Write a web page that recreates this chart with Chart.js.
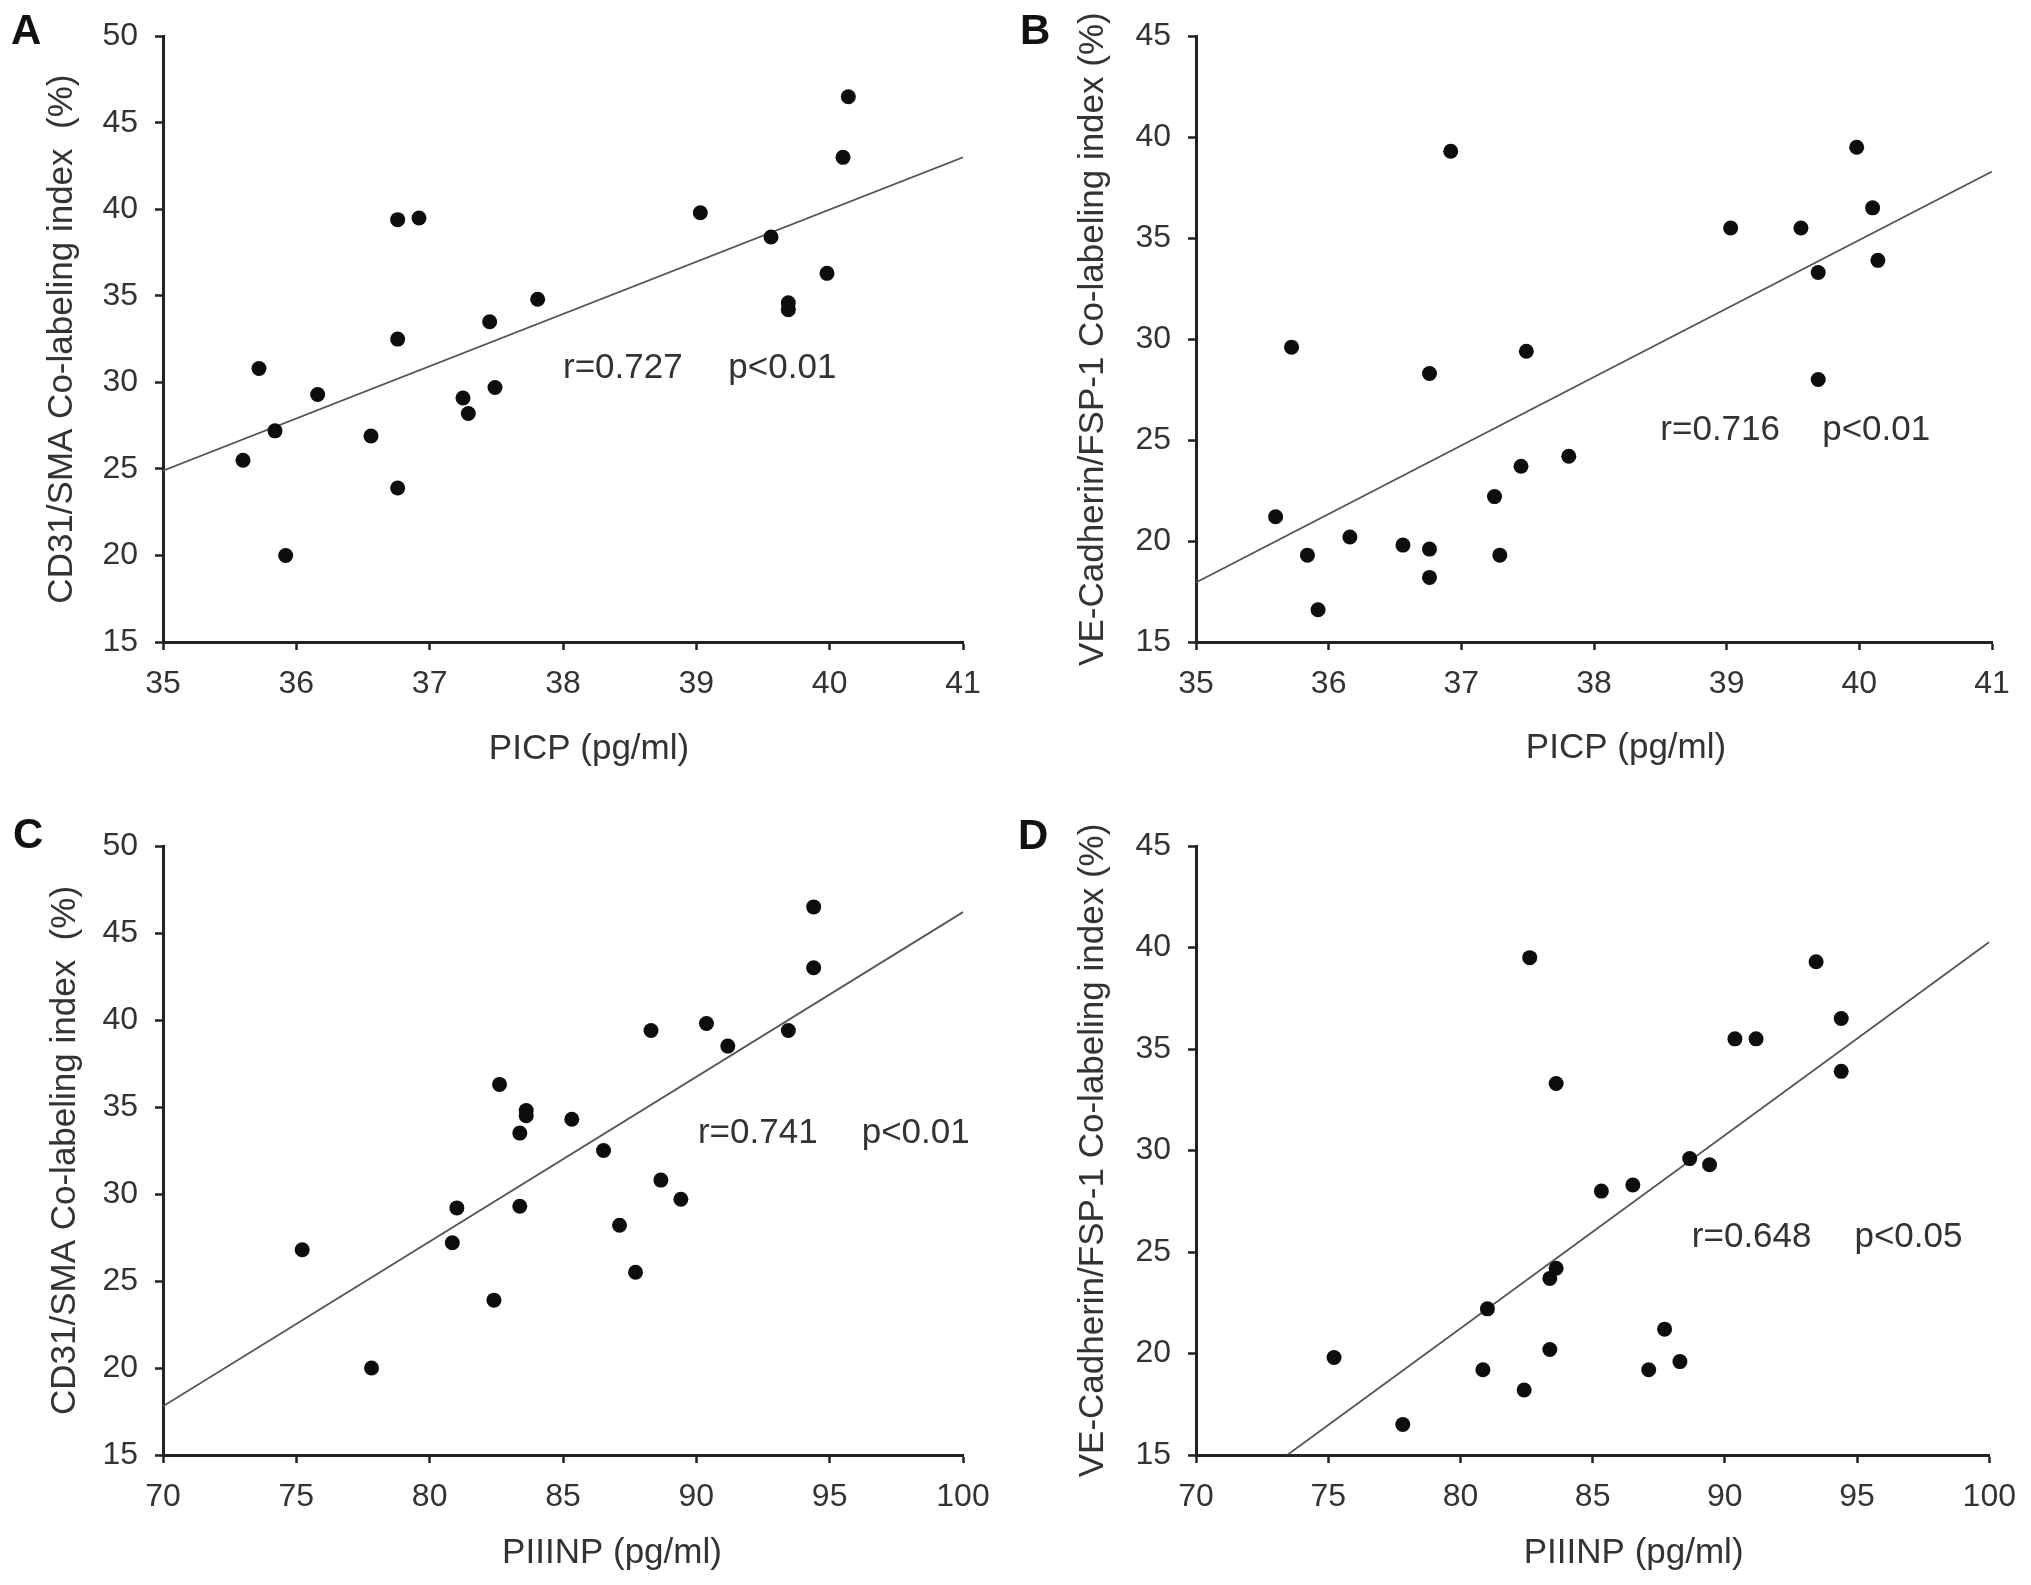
<!DOCTYPE html>
<html>
<head>
<meta charset="utf-8">
<script src="https://cdn.jsdelivr.net/npm/chart.js@4.4.1/dist/chart.umd.min.js"></script>
<style>
  html, body { margin: 0; padding: 0; background: #fff; }
  .panel { position: absolute; }
</style>
</head>
<body>
<div class="panel" style="left:0;top:0;width:1015px;height:792px"><canvas id="chartA"></canvas></div>
<div class="panel" style="left:1015px;top:0;width:1016px;height:792px"><canvas id="chartB"></canvas></div>
<div class="panel" style="left:0;top:792px;width:1015px;height:793px"><canvas id="chartC"></canvas></div>
<div class="panel" style="left:1015px;top:792px;width:1016px;height:793px"><canvas id="chartD"></canvas></div>
<script>
// PICP (pg/ml), one value per patient, sorted
const picp = [35.60, 35.72, 35.84, 35.92, 36.16, 36.56, 36.76, 36.76, 36.76, 36.92, 37.25,
              37.29, 37.45, 37.49, 37.81, 39.03, 39.56, 39.69, 39.69, 39.98, 40.10, 40.14];
// CD31/SMA co-labeling index (%) in PICP order (panel A)
const cd31ByPicp = [25.5, 30.8, 27.2, 20.0, 29.3, 26.9, 23.9, 32.5, 39.4, 39.5, 29.1,
                    28.2, 33.5, 29.7, 34.8, 39.8, 38.4, 34.6, 34.2, 36.3, 43.0, 46.5];
// VE-Cadherin/FSP-1 co-labeling index (%) in PICP order (panel B)
const vecadByPicp = [21.2, 29.6, 19.3, 16.6, 20.2, 19.8, 19.6, 18.2, 28.3, 39.3, 22.2,
                     19.3, 23.7, 29.4, 24.2, 35.5, 35.5, 33.3, 28.0, 39.5, 36.5, 33.9];

// PIIINP (pg/ml), sorted
const piiinp = [75.22, 77.82, 80.85, 81.02, 82.41, 82.62, 83.38, 83.38, 83.62, 83.62, 85.33,
                86.52, 87.12, 87.72, 88.30, 88.67, 89.42, 90.38, 91.18, 93.45, 94.40, 94.40];
// CD31/SMA in PIIINP order (panel C)
const cd31ByPiiinp = [26.8, 20.0, 27.2, 29.2, 23.9, 36.3, 33.5, 29.3, 34.8, 34.5, 34.3,
                      32.5, 28.2, 25.5, 39.4, 30.8, 29.7, 39.8, 38.5, 39.4, 43.0, 46.5];
// VE-Cadherin/FSP-1 in PIIINP order (panel D)
const vecadByPiiinp = [19.8, 16.5, 19.2, 22.2, 18.2, 39.5, 23.7, 20.2, 24.2, 33.3, 28.0,
                       28.3, 19.2, 21.2, 19.6, 29.6, 29.3, 35.5, 35.5, 39.3, 36.5, 33.9];

// regression lines (x ends, y ends)
const fitAx = [35, 41],    fitAy = [24.9, 43.0];
const fitBx = [35, 41],    fitBy = [17.95, 38.3];
const fitCx = [70, 100],   fitCy = [17.8, 46.2];
const fitDx = [73.45, 100], fitDy = [15, 40.27];

// stats text
const statsA = ['r=0.727', 'p<0.01'];
const statsB = ['r=0.716', 'p<0.01'];
const statsC = ['r=0.741', 'p<0.01'];
const statsD = ['r=0.648', 'p<0.05'];

const FONT = '"Liberation Sans", Arial, Helvetica, sans-serif';
Chart.defaults.font.family = FONT;
Chart.defaults.color = '#333';

const toPoints = (xs, ys) => xs.map((x, i) => ({ x: x, y: ys[i] }));

// panel letter, x axis title and the r / p note
const panelText = {
    id: 'panelText',
    afterDraw(chart, args, o) {
        const { ctx, chartArea, scales } = chart;
        ctx.save();
        ctx.fillStyle = '#111';
        ctx.font = 'bold 42px ' + FONT;
        ctx.textAlign = 'left';
        ctx.textBaseline = 'alphabetic';
        ctx.fillText(o.letter, o.letterX, o.letterY);

        ctx.fillStyle = '#333';
        ctx.font = '35px ' + FONT;
        ctx.textAlign = 'center';
        ctx.textBaseline = 'middle';
        ctx.fillText(o.xTitle, (chartArea.left + chartArea.right) / 2 + o.xTitleShift, chartArea.bottom + o.xTitleDrop);

        ctx.textAlign = 'left';
        const ty = scales.y.getPixelForValue(o.statY);
        ctx.fillText(o.stats[0], scales.x.getPixelForValue(o.rX), ty);
        ctx.fillText(o.stats[1], scales.x.getPixelForValue(o.pX), ty);
        ctx.restore();
    }
};

const axisBase = (min, max, step, pad) => ({
    type: 'linear',
    min: min,
    max: max,
    ticks: { stepSize: step, padding: pad, font: { size: 32 }, color: '#333' },
    grid: { display: true, drawOnChartArea: false, drawTicks: true, tickLength: 8, tickColor: '#222', tickWidth: 2.5 },
    border: { display: true, color: '#222', width: 3 }
});

const renderPanel = (id, cfg) => {
    const xAxis = axisBase(cfg.xMin, cfg.xMax, cfg.xStep, 15);
    xAxis.afterFit = (s) => { s.height = cfg.xAxisH; };
    const yAxis = axisBase(15, cfg.yMax, 5, 17);
    yAxis.title = { display: true, text: cfg.yTitle, font: { size: 35 }, color: '#333', padding: { top: cfg.yTitlePad, bottom: 0 } };
    yAxis.afterFit = (s) => { s.width = cfg.yAxisW; };

    return new Chart(document.getElementById(id), {
        type: 'scatter',
        data: {
            datasets: [{
                data: toPoints(cfg.xs, cfg.ys),
                pointRadius: 7.5,
                pointBackgroundColor: '#0d0d0d',
                pointBorderWidth: 0,
                order: 0
            }, {
                data: toPoints(cfg.fitX, cfg.fitY),
                showLine: true,
                borderColor: '#555',
                borderWidth: 1.8,
                pointRadius: 0,
                order: 1
            }]
        },
        options: {
            responsive: true,
            maintainAspectRatio: false,
            animation: false,
            layout: { padding: { left: 0, top: cfg.padTop, right: cfg.padRight, bottom: 0 } },
            scales: { x: xAxis, y: yAxis },
            plugins: {
                legend: { display: false },
                tooltip: { enabled: false },
                panelText: {
                    letter: cfg.letter, letterX: cfg.letterX, letterY: cfg.letterY,
                    xTitle: cfg.xTitle, xTitleShift: cfg.xTitleShift, xTitleDrop: cfg.xTitleDrop,
                    stats: cfg.stats, rX: cfg.rX, pX: cfg.pX, statY: cfg.statY
                }
            }
        },
        plugins: [panelText]
    });
};

const cd31Title = 'CD31/SMA Co-labeling index  (%)';
const vecadTitle = 'VE-Cadherin/FSP-1 Co-labeling index (%)';

renderPanel('chartA', {
    xs: picp, ys: cd31ByPicp, fitX: fitAx, fitY: fitAy, stats: statsA,
    xMin: 35, xMax: 41, xStep: 1, yMax: 50,
    yTitle: cd31Title, xTitle: 'PICP (pg/ml)',
    yAxisW: 163, xAxisH: 150, padTop: 35, padRight: 52, yTitlePad: 41,
    letter: 'A', letterX: 11, letterY: 44, xTitleShift: 26, xTitleDrop: 107,
    rX: 38.0, pX: 39.24, statY: 30.8
});
renderPanel('chartB', {
    xs: picp, ys: vecadByPicp, fitX: fitBx, fitY: fitBy, stats: statsB,
    xMin: 35, xMax: 41, xStep: 1, yMax: 45,
    yTitle: vecadTitle, xTitle: 'PICP (pg/ml)',
    yAxisW: 181, xAxisH: 150, padTop: 35, padRight: 39, yTitlePad: 57,
    letter: 'B', letterX: 5, letterY: 44, xTitleShift: 32, xTitleDrop: 106,
    rX: 38.5, pX: 39.72, statY: 25.5
});
renderPanel('chartC', {
    xs: piiinp, ys: cd31ByPiiinp, fitX: fitCx, fitY: fitCy, stats: statsC,
    xMin: 70, xMax: 100, xStep: 5, yMax: 50,
    yTitle: cd31Title, xTitle: 'PIIINP (pg/ml)',
    yAxisW: 163, xAxisH: 130, padTop: 54, padRight: 52, yTitlePad: 44,
    letter: 'C', letterX: 13, letterY: 56, xTitleShift: 49, xTitleDrop: 98,
    rX: 90.06, pX: 96.2, statY: 33.46
});
renderPanel('chartD', {
    xs: piiinp, ys: vecadByPiiinp, fitX: fitDx, fitY: fitDy, stats: statsD,
    xMin: 70, xMax: 100, xStep: 5, yMax: 45,
    yTitle: vecadTitle, xTitle: 'PIIINP (pg/ml)',
    yAxisW: 181, xAxisH: 130, padTop: 54, padRight: 39, yTitlePad: 57,
    letter: 'D', letterX: 3, letterY: 57, xTitleShift: 41, xTitleDrop: 98,
    rX: 88.75, pX: 94.9, statY: 25.74
});
</script>
</body>
</html>
